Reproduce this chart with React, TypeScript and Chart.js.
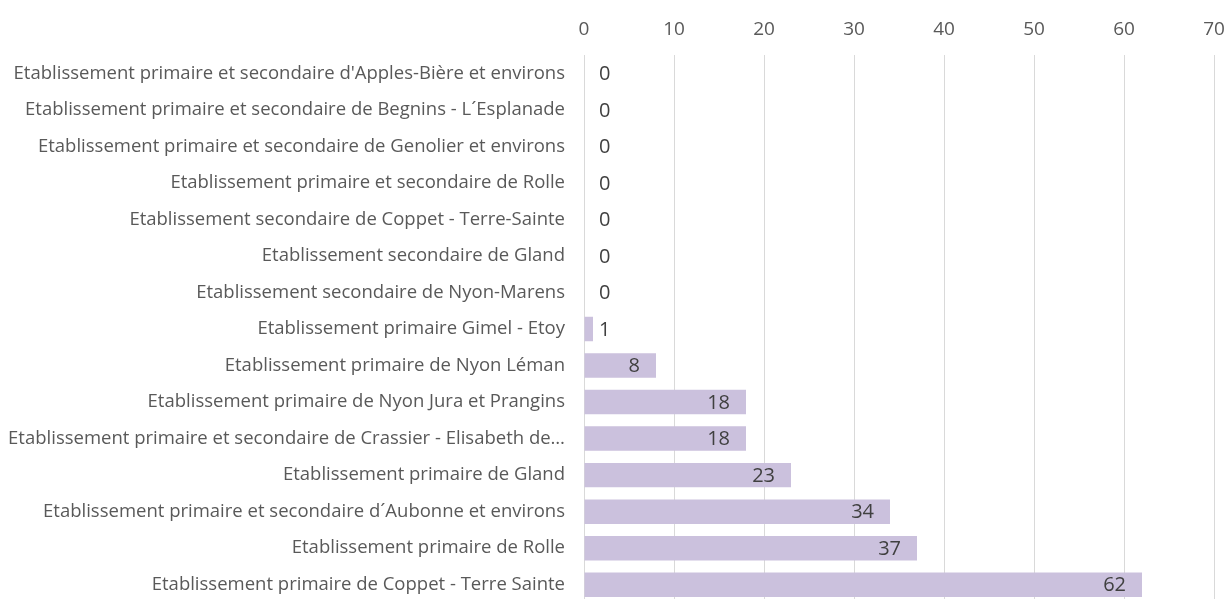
import React, { useEffect, useRef } from "react";
import { Chart, registerables } from "chart.js";

Chart.register(...registerables);

const categories: string[] = [
  "Etablissement primaire et secondaire d'Apples-Bière et environs",
  "Etablissement primaire et secondaire de Begnins - L´Esplanade",
  "Etablissement primaire et secondaire de Genolier et environs",
  "Etablissement primaire et secondaire de Rolle",
  "Etablissement secondaire de Coppet - Terre-Sainte",
  "Etablissement secondaire de Gland",
  "Etablissement secondaire de Nyon-Marens",
  "Etablissement primaire Gimel - Etoy",
  "Etablissement primaire de Nyon Léman",
  "Etablissement primaire de Nyon Jura et Prangins",
  "Etablissement primaire et secondaire de Crassier - Elisabeth de…",
  "Etablissement primaire de Gland",
  "Etablissement primaire et secondaire d´Aubonne et environs",
  "Etablissement primaire de Rolle",
  "Etablissement primaire de Coppet - Terre Sainte",
];

const values: number[] = [0, 0, 0, 0, 0, 0, 0, 1, 8, 18, 18, 23, 34, 37, 62];

const xTicks: number[] = [0, 10, 20, 30, 40, 50, 60, 70];

const BAR_COLOR = "#CBC1DD";
const GRID_COLOR = "#D9D9D9";
const AXIS_TEXT = "#595959";
const LABEL_TEXT = "#404040";
const FONT = "'Open Sans', sans-serif";

const dataLabelPlugin = {
  id: "dataLabels",
  afterDatasetsDraw(chart: any) {
    const ctx = chart.ctx;
    const meta = chart.getDatasetMeta(0);
    const xScale = chart.scales.x;
    const zero = xScale.getPixelForValue(0);
    ctx.save();
    ctx.font = `20px ${FONT}`;
    ctx.fillStyle = LABEL_TEXT;
    ctx.textBaseline = "middle";
    meta.data.forEach((bar: any, i: number) => {
      const v = values[i];
      const text = String(v);
      const w = ctx.measureText(text).width;
      const barLen = bar.x - zero;
      if (barLen > w + 20) {
        ctx.textAlign = "right";
        ctx.fillText(text, bar.x - 16, bar.y + 1);
      } else {
        ctx.textAlign = "left";
        ctx.fillText(text, Math.max(bar.x + 6, zero + 15), bar.y + 1);
      }
    });
    ctx.restore();
  },
};

export default function App() {
  const canvasRef = useRef<HTMLCanvasElement | null>(null);

  useEffect(() => {
    document.body.style.margin = "0";
    document.body.style.overflow = "hidden";
    const canvas = canvasRef.current;
    if (!canvas) return;
    const chart = new Chart(canvas, {
      type: "bar",
      data: {
        labels: categories,
        datasets: [
          {
            data: values,
            backgroundColor: BAR_COLOR,
            borderWidth: 0,
            categoryPercentage: 1,
            barPercentage: 0.67,
          },
        ],
      },
      options: {
        indexAxis: "y",
        animation: false,
        responsive: false,
        maintainAspectRatio: false,
        layout: { padding: { left: 0, right: 14, top: 0, bottom: 0 } },
        plugins: {
          legend: { display: false },
          tooltip: { enabled: false },
        },
        scales: {
          x: {
            position: "top",
            min: 0,
            max: 70,
            afterBuildTicks: (scale: any) => {
              scale.ticks = xTicks.map((v) => ({ value: v }));
            },
            afterFit: (scale: any) => {
              scale.height = 55;
              scale.paddingLeft = 0;
              scale.paddingRight = 0;
              scale.paddingTop = 0;
              scale.paddingBottom = 0;
            },
            ticks: {
              color: AXIS_TEXT,
              font: { family: FONT, size: 19 },
              padding: 14,
              maxRotation: 0,
            },
            grid: {
              color: GRID_COLOR,
              lineWidth: 1,
              drawTicks: false,
            },
            border: { display: false },
          },
          y: {
            afterFit: (scale: any) => {
              scale.width = 584;
              scale.paddingLeft = 0;
              scale.paddingRight = 0;
              scale.paddingTop = 0;
              scale.paddingBottom = 0;
            },
            ticks: {
              color: AXIS_TEXT,
              font: { family: FONT, size: 18.5 },
              padding: 19,
              autoSkip: false,
            },
            grid: { display: false, drawTicks: false },
            border: { display: false },
          },
        },
      },
      plugins: [dataLabelPlugin],
    });
    return () => chart.destroy();
  }, []);

  return (
    <div style={{ width: 1228, height: 599, overflow: "hidden", background: "#fff" }}>
      <canvas ref={canvasRef} width={1228} height={603} style={{ display: "block" }} />
    </div>
  );
}
